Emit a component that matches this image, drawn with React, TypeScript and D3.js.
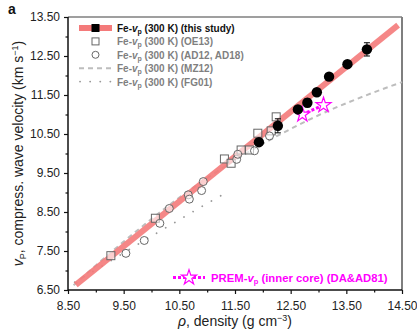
import { useRef, useEffect } from 'react';
import * as d3 from 'd3';

// this study, Fe-vp at 300 K
const studyRho = [11.93, 12.27, 12.63, 12.8, 12.97, 13.19, 13.52, 13.87];
const studyVp = [10.29, 10.71, 11.13, 11.3, 11.57, 11.97, 12.29, 12.67];
const studyErr = [0.05, 0.18, 0.06, 0.1, 0.06, 0.06, 0.06, 0.17];

// linear fit of this study
const fitRho = [8.64, 14.43];
const fitVp = [6.63, 13.29];

// OE13 (squares)
const oeRho = [9.27, 10.07, 11.31, 11.43, 11.61, 11.76, 11.91, 12.15, 12.24];
const oeVp = [7.38, 8.34, 9.86, 9.75, 10.09, 10.09, 10.52, 10.58, 10.94];

// AD12, AD18 (circles)
const adRho = [9.54, 9.87, 10.15, 10.32, 10.66, 10.68, 10.9, 10.93, 11.53, 11.55, 11.85, 12.12];
const adVp = [7.44, 7.77, 8.21, 8.59, 8.94, 8.83, 9.05, 9.28, 9.85, 9.98, 10.07, 10.45];

// MZ12 (dashed)
const mzRho = [8.6, 9.0, 9.5, 10.0, 10.5, 11.0, 11.5, 12.0, 12.5, 13.0, 13.5, 14.0, 14.5];
const mzVp = [6.62, 7.13, 7.74, 8.32, 8.87, 9.37, 9.83, 10.25, 10.63, 10.98, 11.29, 11.57, 11.83];

// FG01 (dotted)
const fgRho = [8.62, 9.0, 9.5, 10.0, 10.5, 11.0, 11.25];
const fgVp = [6.7, 7.02, 7.45, 7.88, 8.3, 8.72, 8.92];

// PREM inner core
const premRho = [12.71, 13.09];
const premVp = [11.0, 11.24];

const xTicks = [8.5, 9.5, 10.5, 11.5, 12.5, 13.5, 14.5];
const yTicks = [6.5, 7.5, 8.5, 9.5, 10.5, 11.5, 12.5, 13.5];

const RED = '#f47a7a';
const GREY = '#7f7f7f';
const MAGENTA = '#ff00ff';

export default function App() {
  const svgRef = useRef<SVGSVGElement>(null);

  useEffect(() => {
    if (!svgRef.current) return;
    const svg = d3.select(svgRef.current);
    svg.selectAll('*').remove();

    const width = 417;
    const height = 329;
    const margin = { top: 17, right: 15, bottom: 39, left: 68 };
    const innerWidth = width - margin.left - margin.right;
    const innerHeight = height - margin.top - margin.bottom;

    const g = svg.append('g').attr('transform', `translate(${margin.left},${margin.top})`);
    const x = d3.scaleLinear().domain([8.5, 14.5]).range([0, innerWidth]);
    const y = d3.scaleLinear().domain([6.5, 13.5]).range([innerHeight, 0]);
    const font = 'Arial, "Liberation Sans", Helvetica, sans-serif';

    // axes
    const minorX = d3.range(9, 14.5, 1);
    const minorY = d3.range(7, 13.5, 1);
    const xAxis = g.append('g').attr('transform', `translate(0,${innerHeight})`);
    xAxis.call(d3.axisBottom(x).tickValues(xTicks).tickSize(4).tickFormat((d) => (d as number).toFixed(2)));
    xAxis.append('g').call(d3.axisBottom(x).tickValues(minorX).tickSize(2.5).tickFormat(() => ''));
    const yAxis = g.append('g');
    yAxis.call(d3.axisLeft(y).tickValues(yTicks).tickSize(4).tickFormat((d) => (d as number).toFixed(2)));
    yAxis.append('g').call(d3.axisLeft(y).tickValues(minorY).tickSize(2.5).tickFormat(() => ''));
    [xAxis, yAxis].forEach((a) => {
      a.selectAll('.domain').remove();
      a.selectAll('line').attr('stroke', '#111').attr('stroke-width', 1.2);
      a.selectAll('text').attr('font-family', font).attr('font-size', 12).attr('fill', '#222');
    });
    yAxis.selectAll('text').attr('dx', '-1');
    xAxis.selectAll('text').attr('dy', '1.1em');

    // frame
    g.append('line').attr('x1', 0).attr('x2', innerWidth).attr('y1', 0).attr('y2', 0)
      .attr('stroke', GREY).attr('stroke-width', 1.5);
    g.append('line').attr('x1', innerWidth).attr('x2', innerWidth).attr('y1', 0).attr('y2', innerHeight)
      .attr('stroke', GREY).attr('stroke-width', 2);
    g.append('line').attr('x1', 0).attr('x2', 0).attr('y1', 0).attr('y2', innerHeight)
      .attr('stroke', '#111').attr('stroke-width', 1.5);
    g.append('line').attr('x1', 0).attr('x2', innerWidth).attr('y1', innerHeight).attr('y2', innerHeight)
      .attr('stroke', '#111').attr('stroke-width', 1.5);

    const line = d3.line<[number, number]>().x((d) => x(d[0])).y((d) => y(d[1]));
    const mono = d3.line<[number, number]>().x((d) => x(d[0])).y((d) => y(d[1])).curve(d3.curveMonotoneX);
    const zip = (a: number[], b: number[]) => a.map((v, i) => [v, b[i]] as [number, number]);

    // FG01 dotted
    g.append('path').attr('d', mono(zip(fgRho, fgVp))).attr('fill', 'none')
      .attr('stroke', '#999').attr('stroke-width', 1.8).attr('stroke-linecap', 'round')
      .attr('stroke-dasharray', '0.1,10.5');
    // MZ12 dashed
    g.append('path').attr('d', mono(zip(mzRho, mzVp))).attr('fill', 'none')
      .attr('stroke', '#bdbdbd').attr('stroke-width', 2).attr('stroke-dasharray', '5,4');
    // fit line
    g.append('path').attr('d', line(zip(fitRho, fitVp))).attr('fill', 'none')
      .attr('stroke', RED).attr('stroke-width', 6).attr('stroke-opacity', 0.9);

    // OE13 squares
    g.selectAll('.sq').data(zip(oeRho, oeVp)).enter().append('rect')
      .attr('x', (d) => x(d[0]) - 4).attr('y', (d) => y(d[1]) - 4)
      .attr('width', 8).attr('height', 8).attr('fill', 'white').attr('fill-opacity', 0.6)
      .attr('stroke', '#666').attr('stroke-width', 1);
    // AD circles
    g.selectAll('.ci').data(zip(adRho, adVp)).enter().append('circle')
      .attr('cx', (d) => x(d[0])).attr('cy', (d) => y(d[1])).attr('r', 4)
      .attr('fill', 'white').attr('fill-opacity', 0.6).attr('stroke', '#666').attr('stroke-width', 1);

    // PREM
    const star = d3.symbol().type(d3.symbolStar).size(70);
    g.append('path').attr('d', line(zip(premRho, premVp))).attr('fill', 'none')
      .attr('stroke', MAGENTA).attr('stroke-width', 3).attr('stroke-dasharray', '3,2');
    g.selectAll('.st').data(zip(premRho, premVp)).enter().append('path')
      .attr('transform', (d) => `translate(${x(d[0])},${y(d[1])})`)
      .attr('d', star).attr('fill', 'white').attr('stroke', MAGENTA).attr('stroke-width', 1.2);

    // this study with error bars
    const study = zip(studyRho, studyVp);
    const eb = g.selectAll('.eb').data(study).enter().append('g');
    eb.append('line').attr('x1', (d) => x(d[0])).attr('x2', (d) => x(d[0]))
      .attr('y1', (d, i) => y(d[1] - studyErr[i])).attr('y2', (d, i) => y(d[1] + studyErr[i]))
      .attr('stroke', '#000').attr('stroke-width', 1);
    [-1, 1].forEach((s) => {
      eb.append('line').attr('x1', (d) => x(d[0]) - 3).attr('x2', (d) => x(d[0]) + 3)
        .attr('y1', (d, i) => y(d[1] + s * studyErr[i])).attr('y2', (d, i) => y(d[1] + s * studyErr[i]))
        .attr('stroke', '#000').attr('stroke-width', 1);
    });
    g.selectAll('.pt').data(study).enter().append('circle')
      .attr('cx', (d) => x(d[0])).attr('cy', (d) => y(d[1])).attr('r', 5.2).attr('fill', '#000');

    // legend
    const leg = g.append('g').attr('transform', 'translate(11,11)');
    const rowH = 13.4;
    const labels = ['this study', 'OE13', 'AD12, AD18', 'MZ12', 'FG01'];
    labels.forEach((lab, i) => {
      const yy = i * rowH;
      const row = leg.append('g').attr('transform', `translate(0,${yy})`);
      if (i === 0) {
        row.append('line').attr('x1', 0).attr('x2', 33).attr('stroke', RED).attr('stroke-width', 6);
        row.append('rect').attr('x', 12.5).attr('y', -4).attr('width', 8).attr('height', 8).attr('fill', '#000');
      } else if (i === 1) {
        row.append('rect').attr('x', 13).attr('y', -3.5).attr('width', 7).attr('height', 7)
          .attr('fill', 'white').attr('stroke', '#666');
      } else if (i === 2) {
        row.append('circle').attr('cx', 16.5).attr('r', 3.5).attr('fill', 'white').attr('stroke', '#666');
      } else if (i === 3) {
        row.append('line').attr('x1', 0).attr('x2', 33).attr('stroke', '#bdbdbd')
          .attr('stroke-width', 2).attr('stroke-dasharray', '5,4');
      } else {
        row.append('line').attr('x1', 1).attr('x2', 33).attr('stroke', '#999').attr('stroke-width', 1.8)
          .attr('stroke-linecap', 'round').attr('stroke-dasharray', '0.1,10');
      }
      const t = row.append('text').attr('x', 38).attr('y', 4).attr('font-family', font)
        .attr('font-size', 10).attr('font-weight', 'bold').attr('fill', i === 0 ? '#111' : GREY);
      t.append('tspan').text('Fe-');
      t.append('tspan').attr('font-style', 'italic').text('v');
      t.append('tspan').attr('font-size', 7).attr('dy', 2).text('p');
      t.append('tspan').attr('dy', -2).text(` (300 K) (${lab})`);
    });

    // PREM legend
    const pl = g.append('g').attr('transform', `translate(105,${y(6.82)})`);
    pl.append('line').attr('x1', 0).attr('x2', 32).attr('stroke', MAGENTA).attr('stroke-width', 3)
      .attr('stroke-dasharray', '3,2');
    pl.append('path').attr('transform', 'translate(16,0)').attr('d', star).attr('fill', 'white')
      .attr('stroke', MAGENTA).attr('stroke-width', 1.2);
    const pt = pl.append('text').attr('x', 38).attr('y', 4).attr('font-family', font)
      .attr('font-size', 11.3).attr('font-weight', 'bold').attr('fill', MAGENTA);
    pt.append('tspan').text('PREM-');
    pt.append('tspan').attr('font-style', 'italic').text('v');
    pt.append('tspan').attr('font-size', 7.5).attr('dy', 2).text('p');
    pt.append('tspan').attr('dy', -2).text(' (inner core) (DA&AD81)');

    // axis titles
    const xt = svg.append('text').attr('x', margin.left + innerWidth / 2).attr('y', 326)
      .attr('text-anchor', 'middle').attr('font-family', font).attr('font-size', 14).attr('fill', '#222');
    xt.append('tspan').attr('font-style', 'italic').text('ρ');
    xt.append('tspan').text(', density (g cm');
    xt.append('tspan').attr('font-size', 9).attr('dy', -5).text('−3');
    xt.append('tspan').attr('dy', 5).text(')');

    const yt = svg.append('text')
      .attr('transform', `translate(23,${margin.top + innerHeight / 2}) rotate(-90)`)
      .attr('text-anchor', 'middle').attr('font-family', font).attr('font-size', 14).attr('fill', '#222');
    yt.append('tspan').attr('font-style', 'italic').text('v');
    yt.append('tspan').attr('font-size', 9).attr('dy', 3).text('P');
    yt.append('tspan').attr('dy', -3).text(', compress. wave velocity (km s');
    yt.append('tspan').attr('font-size', 9).attr('dy', -5).text('−1');
    yt.append('tspan').attr('dy', 5).text(')');

    svg.append('text').attr('x', 8).attr('y', 14).attr('font-family', font).attr('font-size', 14)
      .attr('font-weight', 'bold').attr('fill', '#111').text('a');
  }, []);

  return (
    <svg
      ref={svgRef}
      width={417}
      height={329}
      style={{ position: 'absolute', left: 0, top: 0, background: 'white' }}
    />
  );
}
